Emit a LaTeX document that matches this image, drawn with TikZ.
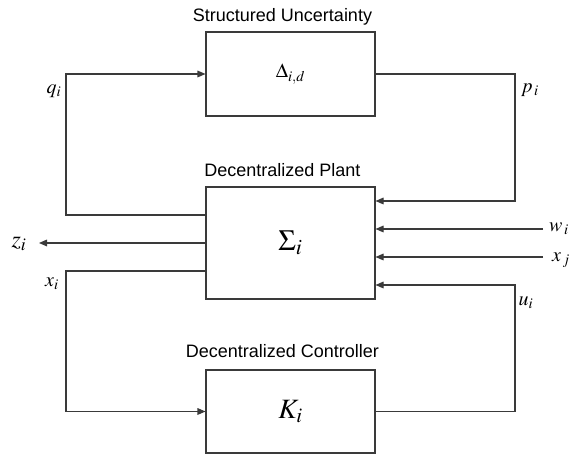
\documentclass[tikz,border=0pt]{standalone}
\usepackage{mathptmx}
\usepackage{fontspec}
\setsansfont{Liberation Sans}
\usepackage{tikz}
\usetikzlibrary{positioning, arrows.meta}
\definecolor{bInk}{HTML}{3A3A3A}

\begin{document}
\begin{tikzpicture}[x=0.75pt, y=-0.75pt, >={Triangle[length=6pt,width=5pt]},
        blk/.style={draw=bInk, line width=0.8pt, minimum width=126.75pt, inner sep=0pt},
        ttl/.style={font=\sffamily\fontsize{13.5}{16}\selectfont, inner sep=0pt, anchor=base},
        sig/.style={font=\fontsize{15}{18}\selectfont, inner sep=0pt},
        wire/.style={bInk, line width=0.8pt}]
      \useasboundingbox (0,0) rectangle (579,459);
      % blocks
      \node[blk, minimum height=63pt] (delta) at (290.5,74)
        {\fontsize{15}{18}\selectfont$\Delta_{i,d}$};
      \node[blk, minimum height=84pt] (plant) at (290.5,243)
        {\fontsize{22}{24}\selectfont$\Sigma_i$};
      \node[blk, minimum height=62.25pt] (ctrl) at (290.5,411.5)
        {\fontsize{21}{24}\selectfont$K_i$};
      \node[ttl] (tdelta) at (282.5,22) {Structured Uncertainty};
      \node[ttl] (tplant) at (282.5,176.5) {Decentralized Plant};
      \node[ttl] (tctrl) at (282.5,357.5) {Decentralized Controller};
      % corners and free ends
      \coordinate (qc) at (66,74);
      \coordinate (xc) at (66,411.5);
      \coordinate (pc) at (515,201);
      \coordinate (uc) at (515,285);
      \coordinate (wend) at (543,229);
      \coordinate (xjend) at (543,257);
      \coordinate (zend) at (39,243);
      % signals
      \draw[->, wire] ([yshift=21pt]plant.west) -| (qc) -- (delta.west);
      \draw[->, wire] (delta.east) -| (pc) -- ([yshift=31.5pt]plant.east);
      \draw[->, wire] (wend) -- ([yshift=10.5pt]plant.east);
      \draw[->, wire] (xjend) -- ([yshift=-10.5pt]plant.east);
      \draw[->, wire] (ctrl.east) -| (uc) -- ([yshift=-31.5pt]plant.east);
      \draw[->, wire] ([yshift=-21pt]plant.west) -| (xc) -- (ctrl.west);
      \draw[->, wire] (plant.west) -- (zend);
      % labels
      \node[sig] (lq) at (54,91) {$q_i$};
      \node[sig] (lp) at (530,90) {$p_{\,i}$};
      \node[sig] (lx) at (52,284) {$x_i$};
      \node[sig] (lu) at (526,303) {$u_i$};
      \node[sig] (lw) at (559,229) {$w_{\,i}$};
      \node[sig] (lxj) at (561,260) {$x_{\,j}$};
      \node[sig, font=\fontsize{18}{20}\selectfont] (lz) at (19,244) {$z_i$};
    \end{tikzpicture}
\end{document}
